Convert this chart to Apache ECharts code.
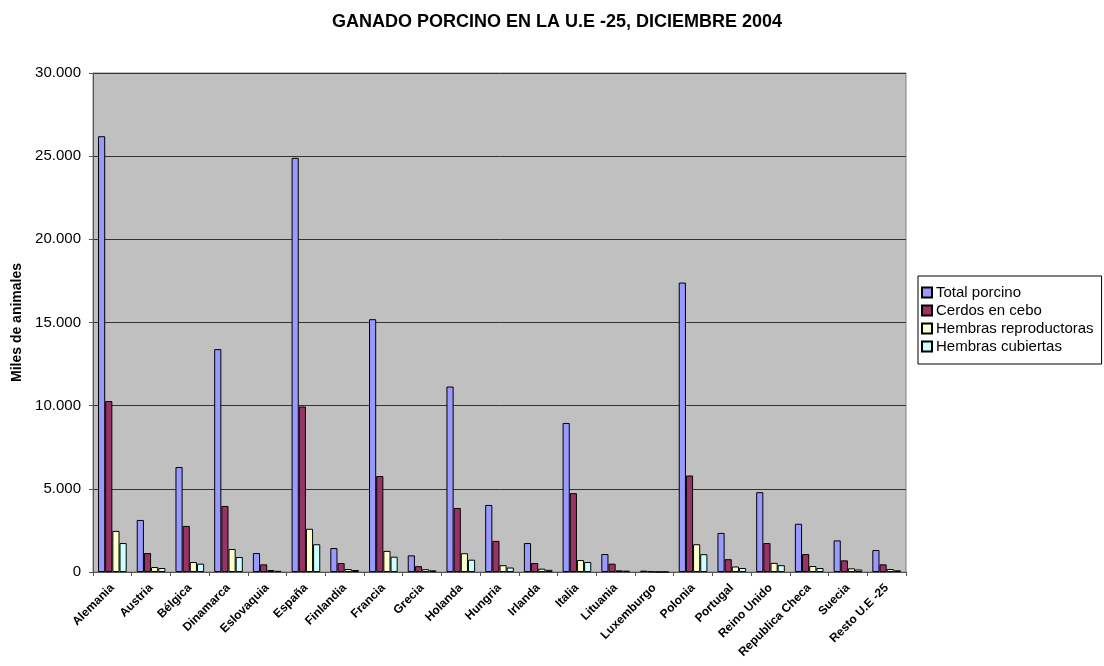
<!DOCTYPE html>
<html>
<head>
<meta charset="utf-8">
<script src="https://cdn.jsdelivr.net/npm/echarts@6/dist/echarts.min.js"></script>
<style>
  html, body { margin: 0; padding: 0; background: #fff; }
  #main { width: 1104px; height: 666px; }
</style>
</head>
<body>
<div id="main"></div>
<script>
// paises
var paises = ['Alemania', 'Austria', 'Bélgica', 'Dinamarca', 'Eslovaquia', 'España', 'Finlandia',
    'Francia', 'Grecia', 'Holanda', 'Hungria', 'Irlanda', 'Italia', 'Lituania', 'Luxemburgo',
    'Polonia', 'Portugal', 'Reino Unido', 'Republica Checa', 'Suecia', 'Resto U.E -25'];

// miles de animales
var totalPorcino = [26200, 3130, 6310, 13400, 1140, 24900, 1440, 15200, 1000, 11150, 4030,
    1740, 8960, 1080, 80, 17400, 2350, 4800, 2900, 1900, 1320];
var cerdosCebo = [10280, 1140, 2770, 3970, 460, 9950, 540, 5770, 350, 3850, 1870,
    540, 4740, 500, 40, 5800, 770, 1740, 1080, 700, 460];
var hembrasRepro = [2470, 300, 600, 1380, 120, 2600, 180, 1270, 170, 1130, 410,
    200, 720, 100, 10, 1670, 330, 550, 360, 220, 180];
var hembrasCubiertas = [1740, 240, 500, 900, 70, 1670, 120, 920, 100, 740, 270,
    130, 600, 80, 8, 1070, 240, 410, 240, 150, 100];

var nombres = ['Total porcino', 'Cerdos en cebo', 'Hembras reproductoras', 'Hembras cubiertas'];
var colores = ['#9999FF', '#993366', '#FFFFCC', '#CCFFFF'];
var datos = [totalPorcino, cerdosCebo, hembrasRepro, hembrasCubiertas];

var fuente = 'Arial, "Liberation Sans", sans-serif';

function miles(v) {
    return String(v).replace(/\B(?=(\d{3})+(?!\d))/g, '.');
}

var series = [];
for (var i = 0; i < nombres.length; i++) {
    series.push({
        name: nombres[i],
        type: 'bar',
        data: datos[i],
        barGap: '0%',
        barCategoryGap: '26%',
        itemStyle: { color: colores[i], borderColor: '#000', borderWidth: 1 }
    });
}

var myChart = echarts.init(document.getElementById('main'));
var option = {
    animation: false,
    title: {
        text: 'GANADO PORCINO EN LA U.E -25, DICIEMBRE 2004',
        left: 552,
        textAlign: 'center',
        top: 8,
        textStyle: { fontFamily: fuente, fontSize: 18, fontWeight: 'bold', color: '#000' }
    },
    legend: {
        orient: 'vertical',
        left: 918,
        top: 276,
        padding: [9, 8, 10, 3],
        itemGap: 3,
        itemWidth: 10,
        itemHeight: 10,
        icon: 'rect',
        borderColor: '#000',
        borderWidth: 1,
        data: nombres,
        textStyle: { fontFamily: fuente, fontSize: 15, color: '#000', padding: [0, 0, 0, -1] }
    },
    grid: {
        left: 93,
        right: 198,
        top: 73,
        bottom: 94,
        show: true,
        backgroundColor: '#C0C0C0',
        borderColor: '#808080',
        borderWidth: 1
    },
    xAxis: {
        type: 'category',
        data: paises,
        axisLine: { lineStyle: { color: '#555' } },
        axisTick: { show: true, length: 4, lineStyle: { color: '#555' } },
        axisLabel: {
            rotate: 45,
            interval: 0,
            margin: 14,
            fontFamily: fuente,
            fontSize: 12,
            fontWeight: 'bold',
            color: '#000'
        }
    },
    yAxis: {
        type: 'value',
        min: 0,
        max: 30000,
        interval: 5000,
        name: 'Miles de animales',
        nameLocation: 'middle',
        nameGap: 68,
        nameRotate: 90,
        nameTextStyle: { fontFamily: fuente, fontSize: 14, fontWeight: 'bold', color: '#000' },
        axisLine: { show: true, lineStyle: { color: '#555' } },
        axisTick: { show: true, length: 4, lineStyle: { color: '#555' } },
        splitLine: { lineStyle: { color: '#333', width: 1 } },
        axisLabel: {
            formatter: miles,
            fontFamily: fuente,
            fontSize: 15,
            color: '#000',
            margin: 12
        }
    },
    series: series
};
myChart.setOption(option);
</script>
</body>
</html>
